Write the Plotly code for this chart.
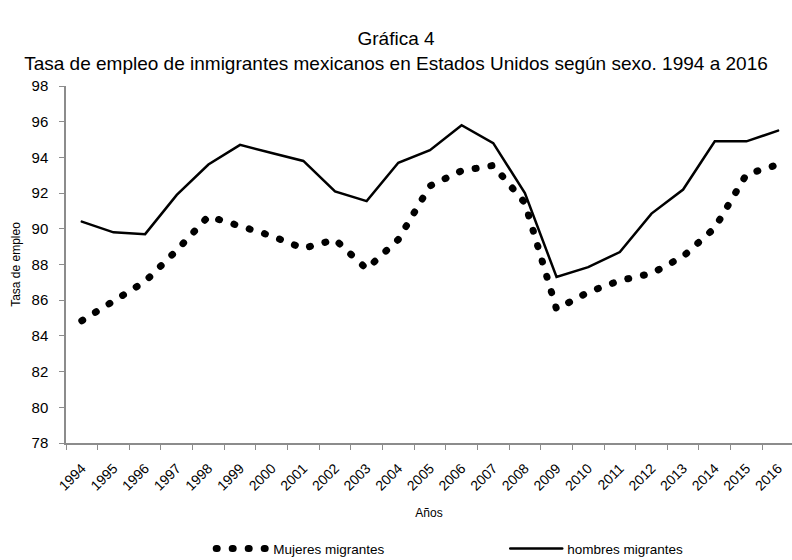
import plotly.graph_objects as go

# Datos
anios = [str(a) for a in range(1994, 2017)]
mujeres = [84.85, 85.9, 87.05, 88.8, 90.7, 90.15, 89.6, 88.9, 89.4, 87.75, 89.4, 92.4,
           93.25, 93.55, 91.45, 85.5, 86.45, 87.1, 87.5, 88.45, 90.05, 93.05, 93.6]
hombres = [90.4, 89.8, 89.7, 91.9, 93.6, 94.7, 94.25, 93.8, 92.1, 91.55, 93.7, 94.4,
           95.8, 94.8, 92.0, 87.3, 87.85, 88.7, 90.85, 92.2, 94.9, 94.9, 95.5]
ticks_y = list(range(78, 99, 2))

fuente = "Liberation Sans, Arial, sans-serif"
gris = "#8c8c8c"

fig = go.Figure()

# Mujeres: línea punteada gruesa
fig.add_trace(go.Scatter(
    x=anios, y=mujeres, mode="lines", name="Mujeres migrantes",
    line=dict(color="black", width=7, dash="1px,15px"),
    legend="legend",
))

# Hombres: línea continua
fig.add_trace(go.Scatter(
    x=anios, y=hombres, mode="lines", name="hombres migrantes",
    line=dict(color="black", width=2.5),
    legend="legend2",
))

fig.update_layout(
    width=792, height=560,
    margin=dict(l=66, r=0, t=86, b=117),
    plot_bgcolor="white", paper_bgcolor="white",
    font=dict(family=fuente, color="black", size=13),
    title=dict(
        text="Gráfica 4<br>Tasa de empleo de inmigrantes mexicanos en Estados Unidos según sexo. 1994 a 2016",
        x=0.5, xanchor="center", xref="container", y=0.92, yanchor="top",
        font=dict(size=19, family=fuente),
    ),
    xaxis=dict(
        type="category", range=[-0.5, 22.44],
        title=dict(text="Años", font=dict(size=12), standoff=16),
        tickangle=-45, tickson="boundaries", ticks="outside", ticklen=5,
        ticklabelstandoff=10,
        tickcolor=gris, showline=True, linecolor=gris, linewidth=1.5,
        showgrid=False, zeroline=False, tickfont=dict(size=14),
    ),
    yaxis=dict(
        range=[78, 98], tickvals=ticks_y,
        title=dict(text="Tasa de empleo", font=dict(size=12), standoff=8),
        ticks="outside", ticklen=5, tickcolor=gris, ticklabelstandoff=8,
        showline=True, linecolor=gris, linewidth=1.5,
        showgrid=False, zeroline=False, tickfont=dict(size=15),
    ),
    legend=dict(
        orientation="h", x=0.2, xanchor="left", yref="container", y=0.02, yanchor="middle",
        itemwidth=52, font=dict(size=13.5),
    ),
    legend2=dict(
        orientation="h", x=0.605, xanchor="left", yref="container", y=0.02, yanchor="middle",
        itemwidth=52, font=dict(size=13.5),
    ),
    showlegend=True,
)

# Sin margen en la página y extremos redondeados para los puntos
estilo = ("var s=document.createElement('style');"
          "s.textContent='body{margin:0;} .js-line{stroke-linecap:round;}';"
          "document.head.appendChild(s);")

fig.write_html("out.html", post_script=estilo, config={"displayModeBar": False})
